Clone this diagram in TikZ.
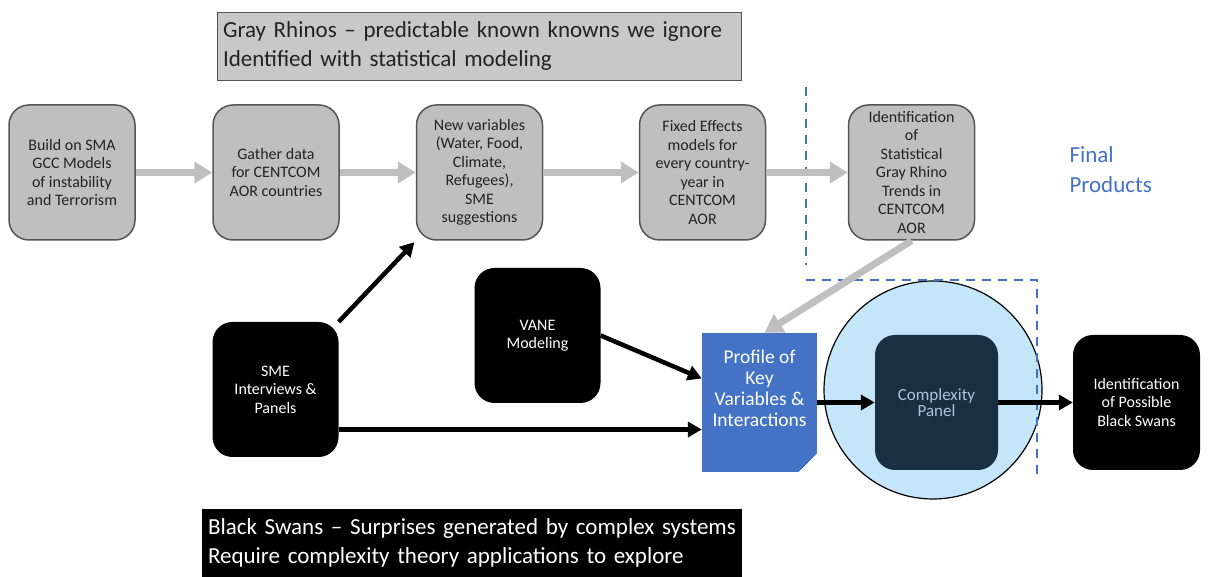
\documentclass[tikz,border=0pt]{standalone}
\usepackage{fontspec}
\setmainfont{Carlito}
\usetikzlibrary{positioning, arrows.meta, calc}
\definecolor{BoxGray}{RGB}{191,191,191}
\definecolor{TitleGray}{RGB}{200,200,200}
\definecolor{EdgeGray}{RGB}{85,85,85}
\definecolor{TextGray}{RGB}{35,35,35}
\definecolor{ProductBlue}{RGB}{68,114,196}
\definecolor{FoldBlue}{RGB}{47,85,151}
\definecolor{CircleBlue}{RGB}{196,230,248}
\definecolor{PanelNavy}{RGB}{26,48,66}
\definecolor{PanelText}{RGB}{170,196,216}
\tikzstyle{grayarrow} = [line width=7pt, BoxGray, -{Triangle[width=21pt,length=18pt]}]
\tikzstyle{blackarrow} = [line width=4.5pt, black, -{Triangle[width=15pt,length=14pt]}]
\tikzstyle{graybox} = [draw=EdgeGray, line width=1.5pt, fill=BoxGray, rounded corners=20pt, minimum width=126pt, minimum height=135pt, align=center, text=TextGray, font=\fontsize{16}{18.5}\selectfont]
\tikzstyle{blackbox} = [fill=black, rounded corners=20pt, minimum width=126pt, minimum height=135pt, align=center, text=white, font=\fontsize{16}{18.5}\selectfont]
\tikzstyle{banner} = [minimum width=540pt, minimum height=68pt, inner xsep=6pt, text width=528pt, align=left, font=\fontsize{23}{29}\selectfont]

\begin{document}
\begin{tikzpicture}[x=1pt, y=1pt]
    \useasboundingbox (0,0) rectangle (1209,577);
    % Gray rhino / black swan pipeline
    \node[banner, draw=EdgeGray, fill=TitleGray, text=TextGray, minimum width=524pt, text width=512pt] (rhinos) at (479,531) {Gray Rhinos -- predictable known knowns we ignore\\Identified with statistical modeling};

    \node[graybox] (build) at (72,404.5) {Build on SMA\\GCC Models\\of instability\\and Terrorism};
    \node[graybox] (gather) at (276,404.5) {Gather data\\for CENTCOM\\AOR countries};
    \node[graybox] (newvars) at (479.5,404.5) {New variables\\(Water, Food,\\Climate,\\Refugees),\\SME\\suggestions};
    \node[graybox] (fixed) at (702.5,404.5) {Fixed Effects\\models for\\every country-\\year in\\CENTCOM\\AOR};
    \node[graybox, inner ysep=1pt] (trends) at (911.5,404.5) {Identification\\of\\Statistical\\Gray Rhino\\Trends in\\CENTCOM\\AOR};

    \node[anchor=west, align=left, text=ProductBlue, font=\fontsize{23}{30}\selectfont] (products) at (1066,407) {Final\\Products};

    \node[circle, draw=black, line width=1.2pt, fill=CircleBlue, minimum size=218pt] (panelcircle) at (933,187) {};
    \draw[ProductBlue, line width=2pt, dash pattern=on 9pt off 7pt] (806,490) -- (806,312);
    \draw[ProductBlue, line width=2pt, dash pattern=on 9pt off 7pt] (806,297) -- (1037,297) -- (1037,97);

    \node[blackbox] (sme) at (275.5,187.5) {SME\\Interviews \&\\Panels};
    \node[blackbox] (vane) at (537.5,241.5) {VANE\\Modeling};
    \node[fill=ProductBlue, minimum width=115pt, minimum height=139pt, inner xsep=2pt, align=center, text=white, font=\fontsize{19.5}{21}\selectfont] (profile) at (759.5,174.5) {Profile of\\Key\\Variables \&\\Interactions\\[8pt]};
    \fill[white] ($(profile.south east)+(0,19)$) -- (profile.south east) -- ($(profile.south east)+(-19,0)$) -- cycle;
    \fill[FoldBlue] ($(profile.south east)+(0,19)$) -- ($(profile.south east)+(-19,0)$) -- ($(profile.south east)+(-15,5)$) -- cycle;
    \node[fill=PanelNavy, rounded corners=20pt, minimum width=123pt, minimum height=135pt, align=center, text=PanelText, font=\fontsize{17}{16}\selectfont] (complexity) at (936.5,174.5) {Complexity\\Panel};
    \node[blackbox, minimum width=127pt] (swans) at (1136.5,174.5) {Identification\\of Possible\\Black Swans};

    \node[banner, fill=black, text=white] (swanbanner) at (472,34) {Black Swans -- Surprises generated by complex systems\\Require complexity theory applications to explore};

    \draw[grayarrow] (build) -- (gather);
    \draw[grayarrow] (gather) -- (newvars);
    \draw[grayarrow] (newvars) -- (fixed);
    \draw[grayarrow] (fixed) -- (trends);
    \draw[grayarrow] (trends.south) -- ([xshift=5pt]profile.north);

    \coordinate (smeout) at ([yshift=-40pt]sme.east);
    \draw[blackarrow, shorten >=2pt] (sme.north east) -- (newvars.south west);
    \draw[blackarrow] (smeout) -- (profile.west |- smeout);
    \draw[blackarrow] (vane.east) -- ([yshift=24pt]profile.west);
    \draw[blackarrow] (profile.east) -- (complexity.west);
    \draw[blackarrow] (complexity.east) -- (swans.west);
\end{tikzpicture}
\end{document}
